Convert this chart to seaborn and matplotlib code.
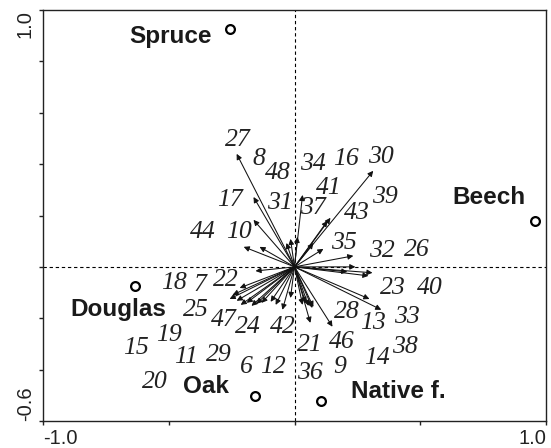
import matplotlib
matplotlib.use("Agg")
import matplotlib.pyplot as plt
import seaborn as sns
import pandas as pd

# ---- data: species arrows (ordination scores) ----
species = ["27", "8", "17", "44", "10", "31", "48",
           "34", "37", "30", "43", "16", "41", "39", "35", "32", "26", "40", "23",
           "33", "38", "46", "21", "28", "13", "14", "9", "36",
           "18", "7", "22", "25",
           "15", "19", "47", "20", "11", "29", "24", "6", "42", "12"]
arrow_x = [-0.230, -0.163, -0.163, -0.202, -0.139, -0.032, -0.016,
           0.032, 0.012, 0.313, 0.143, 0.131, 0.075, 0.115, 0.234, 0.242, 0.310, 0.294, 0.210,
           0.298, 0.345, 0.151, 0.063, 0.044, 0.075, 0.071, 0.056, 0.032,
           -0.155, -0.218, -0.246, -0.258,
           -0.230, -0.214, -0.190, -0.171, -0.151, -0.131, -0.095, -0.075, -0.048, -0.016]
arrow_y = [0.440, 0.272, 0.183, 0.078, 0.078, 0.093, 0.109,
           0.280, 0.117, 0.374, 0.191, 0.179, 0.093, 0.070, 0.043, 0.000, -0.023, -0.035, -0.019,
           -0.125, -0.167, -0.233, -0.218, -0.140, -0.156, -0.160, -0.152, -0.148,
           -0.016, -0.082, -0.109, -0.125,
           -0.132, -0.148, -0.140, -0.152, -0.144, -0.140, -0.136, -0.148, -0.167, -0.121]
label_x = [-0.226, -0.143, -0.258, -0.365, -0.222, -0.060, -0.067,
           0.075, 0.075, 0.345, 0.246, 0.206, 0.135, 0.361, 0.198, 0.349, 0.488, 0.540, 0.393,
           0.448, 0.440, 0.187, 0.063, 0.210, 0.310, 0.329, 0.179, 0.063,
           -0.480, -0.377, -0.274, -0.393,
           -0.631, -0.500, -0.282, -0.556, -0.433, -0.302, -0.187, -0.190, -0.048, -0.087]
label_y = [0.494, 0.420, 0.261, 0.136, 0.136, 0.249, 0.366,
           0.401, 0.230, 0.428, 0.210, 0.420, 0.307, 0.272, 0.093, 0.062, 0.066, -0.082, -0.082,
           -0.195, -0.311, -0.292, -0.304, -0.175, -0.218, -0.354, -0.389, -0.412,
           -0.062, -0.070, -0.051, -0.167,
           -0.315, -0.265, -0.206, -0.447, -0.350, -0.342, -0.233, -0.389, -0.233, -0.389]

# ---- data: sites ----
sites = ["Spruce", "Beech", "Douglas", "Oak", "Native f."]
site_x = [-0.258, 0.956, -0.635, -0.159, 0.107]
site_y = [0.926, 0.179, -0.074, -0.502, -0.521]
site_label_x = [-0.492, 0.774, -0.702, -0.350, 0.413]
site_label_y = [0.895, 0.272, -0.167, -0.467, -0.486]

x_ticks = [-1.0, -0.5, 0.0, 0.5, 1.0]
x_tick_labels = ["-1.0", "", "", "", "1.0"]
y_ticks = [-0.6, -0.4, -0.2, 0.0, 0.2, 0.4, 0.6, 0.8, 1.0]
y_tick_labels = ["-0.6", "", "", "", "", "", "", "", "1.0"]

sns.set_style("white")
plt.rcParams["font.family"] = ["Liberation Sans", "DejaVu Sans"]

fig = plt.figure(figsize=(5.51, 4.48), dpi=100)
ax = fig.add_axes([43 / 551, 1 - 421 / 448, (546 - 43) / 551, (421 - 10) / 448])

ax.axhline(0, color="black", lw=0.8, ls=(0, (3, 2.5)), zorder=1)
ax.axvline(0, color="black", lw=0.8, ls=(0, (3, 2.5)), zorder=1)

for sx, sy in zip(arrow_x, arrow_y):
    ax.annotate("", xy=(sx, sy), xytext=(0, 0),
                arrowprops=dict(arrowstyle="-|>", color="#111111", lw=0.75,
                                mutation_scale=8, shrinkA=0, shrinkB=0),
                zorder=3)

for lab, lx, ly in zip(species, label_x, label_y):
    ax.text(lx, ly, lab, fontsize=18.5, family=["Liberation Serif", "DejaVu Serif"],
            style="italic", color="#222222", ha="center", va="center", zorder=4)

site_df = pd.DataFrame({"x": site_x, "y": site_y, "site": sites})
sns.scatterplot(data=site_df, x="x", y="y", ax=ax, s=40, facecolor="white",
                edgecolor="black", linewidth=1.6, zorder=5, legend=False)

for lab, lx, ly in zip(sites, site_label_x, site_label_y):
    ax.text(lx, ly, lab, fontsize=17.5, fontweight="bold", color="#1a1a1a",
            ha="center", va="center", zorder=4)

ax.set_xlim(-1.0, 1.0)
ax.set_ylim(-0.6, 1.0)
ax.set_xlabel("")
ax.set_ylabel("")
ax.set_xticks(x_ticks)
ax.set_xticklabels(x_tick_labels, fontsize=14.5, color="#222222")
ax.set_yticks(y_ticks)
ax.set_yticklabels(y_tick_labels, fontsize=14.5, color="#222222", rotation=90)
ax.tick_params(axis="both", direction="out", length=3, width=1, color="#222222",
               left=True, bottom=True)
ax.tick_params(axis="x", pad=3)
ax.tick_params(axis="y", pad=3)

xl = ax.get_xticklabels()
xl[0].set_ha("left")
xl[-1].set_ha("right")
yl = ax.get_yticklabels()
yl[0].set_va("bottom")
yl[-1].set_va("top")

for sp in ax.spines.values():
    sp.set_visible(True)
    sp.set_color("#222222")
    sp.set_linewidth(1.0)

fig.savefig("out.png", dpi=100)
